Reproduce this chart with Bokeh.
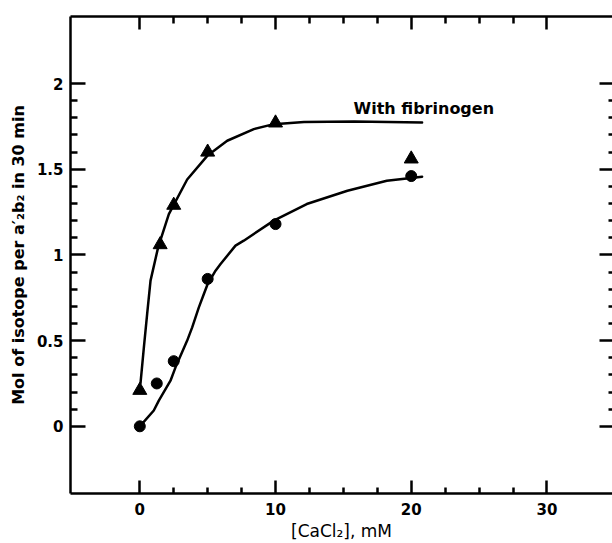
from bokeh.plotting import figure
from bokeh.models import LinearAxis, FixedTicker, Label, Range1d
from bokeh.embed import file_html
from bokeh.resources import INLINE

# Data
ca_fib = [0, 1.5, 2.5, 5, 10, 20]
mol_fib = [0.21, 1.06, 1.29, 1.60, 1.77, 1.56]
ca_nofib = [0, 1.25, 2.5, 5, 10, 20]
mol_nofib = [0.0, 0.25, 0.38, 0.86, 1.18, 1.46]

curve_fib_x = [0.05, 0.3, 0.54, 0.79, 1.35, 2.14, 3.49, 4.97, 6.44, 8.4, 9.87, 12.1, 15.8, 20.8]
curve_fib_y = [0.25, 0.46, 0.655, 0.85, 1.044, 1.238, 1.44, 1.578, 1.666, 1.734, 1.763, 1.775, 1.778, 1.773]
curve_nofib_x = [0.0, 1.03, 1.4, 2.26, 2.63, 3.49, 3.86, 4.35, 4.72, 5.0, 5.58, 5.95, 7.05, 7.66, 9.87, 12.3, 15.3, 18.2, 20.8]
curve_nofib_y = [0.0, 0.092, 0.15, 0.266, 0.344, 0.5, 0.577, 0.694, 0.772, 0.83, 0.908, 0.947, 1.054, 1.083, 1.2, 1.297, 1.374, 1.433, 1.456]

x_major = [0, 10, 20, 30]
x_minor = [2.5, 5, 7.5, 12.5, 15, 17.5, 22.5, 25, 27.5]
y_major = [0, 0.5, 1, 1.5, 2]
y_labels = ["0", "0.5", "1", "1.5", "2"]
y_minor = [0.1, 0.2, 0.3, 0.4, 0.6, 0.7, 0.8, 0.9, 1.1, 1.2, 1.3, 1.4, 1.6, 1.7, 1.8, 1.9]

x_title = "[CaCl\u2082], mM"
y_title = "Mol of isotope per a\u2032\u2082b\u2082 in 30 min"
series_label = "With fibrinogen"

FONT = "DejaVu Sans"

xr = Range1d(-5.107, 34.83)
yr = Range1d(-0.392, 2.391)

p = figure(width=612, height=543, output_backend="svg", toolbar_location=None,
           x_range=xr, y_range=yr,
           min_border_left=70, min_border_right=0, min_border_top=16, min_border_bottom=50,
           x_axis_location="below", y_axis_location="left")
p.outline_line_color = None
p.xgrid.visible = False
p.ygrid.visible = False
p.background_fill_color = "white"
p.border_fill_color = "white"


def style(ax, major_in, minor_in):
    ax.axis_line_width = 2.5
    ax.axis_line_color = "black"
    ax.major_tick_line_width = 2.5
    ax.minor_tick_line_width = 2.5
    ax.major_tick_line_color = "black"
    ax.minor_tick_line_color = "black"
    ax.major_tick_in = major_in
    ax.major_tick_out = 0
    ax.minor_tick_in = minor_in
    ax.minor_tick_out = 0
    ax.major_label_text_font = FONT
    ax.major_label_text_font_style = "bold"
    ax.major_label_text_font_size = "15px"
    ax.major_label_text_color = "black"


# bottom axis
bx = p.xaxis[0]
bx.ticker = FixedTicker(ticks=x_major, minor_ticks=x_minor)
bx.axis_label = x_title
style(bx, 13, 6)
bx.major_label_standoff = 9
bx.axis_label_standoff = 3
bx.axis_label_text_font = FONT
bx.axis_label_text_font_style = "normal"
bx.axis_label_text_font_size = "17px"
bx.axis_label_text_color = "black"

# left axis
ly = p.yaxis[0]
ly.ticker = FixedTicker(ticks=y_major, minor_ticks=y_minor)
ly.major_label_overrides = dict(zip(y_major, y_labels))
ly.axis_label = y_title
style(ly, 15, 7)
ly.major_label_standoff = 7
ly.axis_label_standoff = 6
ly.axis_label_text_font = FONT
ly.axis_label_text_font_style = "bold"
ly.axis_label_text_font_size = "16px"
ly.axis_label_text_color = "black"

# top axis (ticks only; its labels are hidden)
tx = LinearAxis(ticker=FixedTicker(ticks=x_major, minor_ticks=x_minor))
style(tx, 13, 7)
tx.major_label_text_font_size = "1px"
tx.major_label_text_alpha = 0
tx.major_label_standoff = 0
p.add_layout(tx, "above")

# right axis (ticks only, spine lies beyond the picture)
ry = LinearAxis(ticker=FixedTicker(ticks=y_major, minor_ticks=y_minor))
style(ry, 13, 4)
ry.axis_line_alpha = 0
ry.major_label_text_font_size = "1px"
ry.major_label_text_alpha = 0
ry.major_label_standoff = 0
p.add_layout(ry, "right")

# curves
p.line(curve_fib_x, curve_fib_y, line_color="black", line_width=2.5, line_join="round", line_cap="round")
p.line(curve_nofib_x, curve_nofib_y, line_color="black", line_width=2.5, line_join="round", line_cap="round")

# points
p.scatter(ca_fib, mol_fib, marker="triangle", size=14, color="black")
p.scatter(ca_nofib, mol_nofib, marker="circle", size=11, color="black")

p.add_layout(Label(x=15.75, y=1.854, text=series_label, text_font=FONT,
                   text_font_style="bold", text_font_size="16px",
                   text_color="black", text_baseline="alphabetic", text_align="left"))

open("out.html", "w").write(file_html(p, INLINE))
